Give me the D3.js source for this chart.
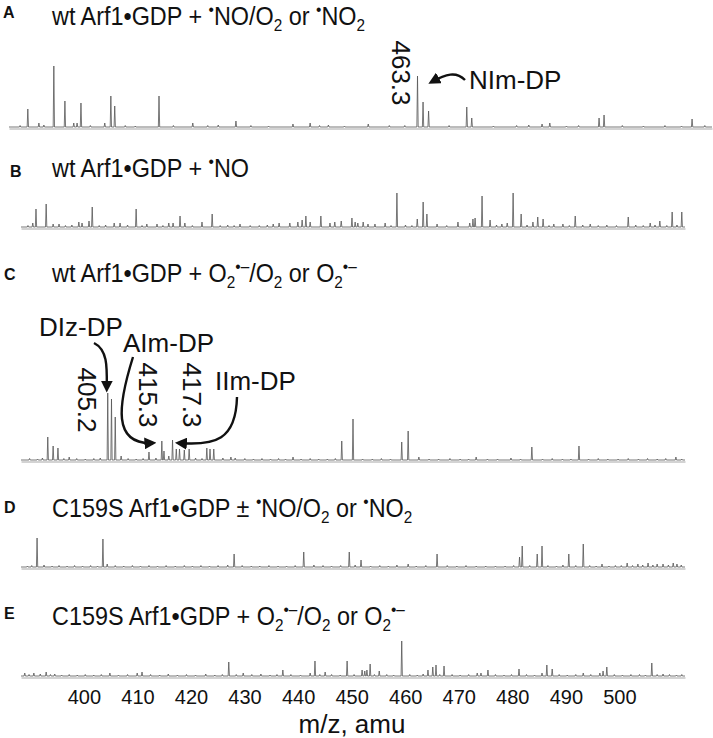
<!DOCTYPE html>
<html>
<head>
<meta charset="utf-8">
<script src="https://cdn.jsdelivr.net/npm/d3@7"></script>
<style>
  body { margin: 0; background: #fff; }
  text { font-family: "Liberation Sans", Arial, sans-serif; fill: #111; }
</style>
</head>
<body>
<div id="chart"></div>
<script>
// peaks: [m/z, relative intensity]
const peaksA = [[391.5,1.5],[392.9,18],[394.9,4],[395.8,2],[397.6,61],[399.6,26],[401.2,4],[401.8,4],[402.5,24],
  [404.2,1.5],[406.8,4],[407.9,31],[408.6,21],[410.5,1.5],[412.3,1],[416.6,31],[419.2,1.5],[422.7,4],[425.4,1.5],
  [427.3,2],[430.5,6],[433.2,1.5],[436.4,1],[440.8,3],[443.9,4],[445.6,1.5],[447.2,2],[450.1,1],[454.4,3],
  [458.2,1.5],[461.0,1.5],[463.3,51],[464.3,25],[465.3,16],[469.0,1.5],[472.2,20],[473.1,9],[477.0,1],
  [481.2,1.5],[483.4,2],[485.8,3],[487.2,4],[490.2,1],[492.4,1.5],[496.1,9],[497.0,12],[500.3,1.5],
  [504.1,1],[508.0,1.5],[511.0,1],[512.9,8],[515.2,1.5]];

const peaksB = [[390.3,1.5],[391.2,4],[391.8,18],[393.7,23],[395.0,3],[396.1,3],[397.3,1.5],[398.5,2],[399.8,5],
  [400.4,4],[401.7,6],[402.3,20],[403.6,1.5],[404.8,2],[406.4,4],[407.5,4],[408.9,2],[410.5,18],[411.6,1.5],
  [412.5,3],[414.4,3],[415.5,1.5],[416.6,4],[417.4,4],[418.7,11],[419.6,4],[421.0,1.5],[422.8,5],[424.7,13],
  [426.2,1.5],[427.6,2],[428.8,1.5],[429.9,3],[431.8,1.5],[433.5,1.5],[435.0,2],[436.1,3],[437.2,4],[439.2,4],
  [440.7,5],[441.5,7],[442.2,11],[443.0,5],[445.0,11],[446.7,4],[447.6,5],[448.8,6],[450.8,9],[451.4,5],
  [451.9,4],[452.9,5],[453.8,3],[455.1,3],[457.0,4],[458.1,1.5],[459.2,34],[460.8,2],[462.0,1.5],[463.0,8],
  [464.1,25],[464.8,13],[466.7,3],[468.5,1.5],[470.6,5],[472.8,4],[473.4,8],[473.8,9],[475.1,31],[476.6,7],
  [477.8,2],[478.8,3],[479.8,4],[480.9,34],[482.4,13],[483.5,2],[484.6,5],[485.5,10],[486.5,8],[487.6,1.5],
  [488.5,3],[490.2,3],[491.4,1.5],[492.5,11],[493.9,2],[495.3,3],[496.8,1.5],[498.4,2],[500.2,1.5],[502.4,10],
  [503.8,2],[505.2,1.5],[506.5,4],[507.4,2],[508.3,6],[509.6,1.5],[510.6,15],[511.5,2],[512.4,15]];

const peaksC = [[390.6,1.5],[392.1,1],[393.0,2],[394.0,23],[395.0,14],[395.9,12],[397.0,1.5],[398.0,3],
  [399.4,1.5],[401.0,1],[402.6,1.5],[403.8,2],[405.2,67],[405.9,61],[406.6,43],[407.7,4],[409.0,1.5],
  [410.5,1],[411.8,1.5],[412.9,8],[414.2,2],[415.3,19],[415.7,9],[416.6,4],[417.3,20],[418.0,11],[418.6,11],
  [419.5,10],[420.4,11],[421.6,2],[422.8,1.5],[423.7,12],[424.3,11],[425.0,11],[426.7,2],[428.2,3],[429.0,2],
  [430.8,1.5],[432.4,1],[434.0,1.5],[435.6,1],[437.1,1.5],[438.4,1],[439.8,3],[441.3,1],[443.0,1.5],
  [444.6,1],[446.2,1],[447.7,1.5],[448.9,19],[451.0,41],[452.8,1],[454.6,1],[456.3,1.5],[458.0,1],
  [460.1,18],[461.3,29],[463.3,3],[465.2,1],[467.0,1],[469.1,1.5],[471.0,1],[472.6,1],[474.0,3],[476.1,1],
  [478.0,1],[480.5,2],[482.3,1],[484.4,13],[486.4,1],[488.2,1.5],[490.1,1],[491.7,1],[493.2,14],[495.0,1],
  [496.8,1.5],[498.6,1],[500.5,1],[502.4,1.5],[504.3,1],[506.0,1.5],[507.8,1],[509.4,1.5],[511.3,3],[512.4,1]];

const peaksD = [[390.2,1],[391.0,1.5],[392.0,29],[393.3,2],[394.8,1],[396.1,1.5],[397.6,1],[399.0,1.5],
  [400.5,1],[402.0,1.5],[403.3,1],[404.3,28],[405.1,3],[406.6,1.5],[408.2,1],[409.8,1.5],[411.3,1],
  [412.9,1.5],[414.5,1],[416.1,1.5],[417.8,1],[419.5,1.5],[421.0,1],[422.6,1.5],[424.2,1],[425.8,1.5],
  [427.6,2],[428.8,13],[430.3,1.5],[432.0,1],[433.6,1],[435.3,1.5],[437.0,1],[438.6,1],[440.2,1.5],
  [441.8,15],[443.7,2],[445.4,1.5],[447.0,1],[448.7,1.5],[450.3,15],[451.4,2],[452.5,7],[454.3,1],
  [456.0,1.5],[457.6,1],[459.2,2],[461.3,3],[462.8,1],[464.6,1.5],[466.7,13],[468.6,1.5],[470.4,1],
  [472.1,1.5],[474.0,1],[475.8,1],[477.6,1],[479.4,1],[481.0,1.5],[482.1,10],[482.6,21],[484.0,1.5],
  [485.4,13],[486.3,21],[487.4,1.5],[489.0,1],[490.2,2],[491.3,13],[492.6,1.5],[494.0,23],[495.2,1.5],
  [496.4,1],[497.5,3],[498.8,1],[500.0,1.5],[501.1,1.5],[502.2,4],[503.2,1.5],[504.2,3],[505.1,2],
  [506.1,4],[507.0,2],[507.8,3],[508.9,3],[509.9,2],[510.8,4],[511.5,3],[512.3,2]];

const peaksE = [[389.7,3],[390.5,1.5],[391.4,3],[392.6,2],[393.7,4],[394.5,1.5],[395.3,2],[396.6,1],
  [398.0,1.5],[399.5,1],[401.0,1.5],[402.6,1],[404.0,1.5],[405.6,3],[407.2,1],[408.9,1.5],[410.7,3],
  [411.6,4],[413.2,1.5],[414.9,1],[416.5,2],[418.2,1],[419.9,1.5],[421.6,1],[423.5,2],[425.2,1],
  [426.6,1.5],[427.8,14],[429.2,1.5],[430.5,3],[432.1,1.5],[433.8,2],[435.5,1],[436.8,1.5],[437.9,6],
  [439.4,1.5],[441.2,1],[443.0,3],[443.9,15],[444.8,1.5],[445.8,4],[447.0,1.5],[448.6,1],[449.9,15],
  [451.2,1.5],[452.7,6],[453.2,5],[453.6,6],[454.2,12],[455.0,1.5],[455.9,5],[457.3,1.5],[458.6,1],
  [460.1,35],[461.6,1.5],[463.0,1],[464.1,2],[465.0,6],[465.9,9],[466.5,11],[467.2,1.5],[468.0,10],
  [469.5,1.5],[471.0,1],[472.6,1.5],[474.2,3],[474.9,3],[476.2,6],[477.6,1.5],[479.2,1],[480.6,1.5],
  [482.0,7],[483.4,1.5],[484.9,1],[486.3,3],[487.2,11],[488.2,7],[489.5,1.5],[491.0,1],[492.6,1.5],
  [494.0,3],[495.4,1.5],[497.1,3],[497.7,5],[498.4,9],[499.8,1.5],[501.3,1],[502.9,1.5],[504.5,1.5],
  [505.6,1],[506.8,13],[507.8,1.5],[508.9,2],[510.1,1.5],[511.4,1],[512.4,1.5]];

const tickValues = [400, 410, 420, 430, 440, 450, 460, 470, 480, 490, 500];
const xLabel = "m/z, amu";

// title segments: [text, "" | "sub" | "sup"]
const titleA = [["wt Arf1\u2022GDP + ",""],["\u2022","sup"],["NO/O",""],["2","sub"],[" or ",""],["\u2022","sup"],["NO",""],["2","sub"]];
const titleB = [["wt Arf1\u2022GDP + ",""],["\u2022","sup"],["NO",""]];
const titleC = [["wt Arf1\u2022GDP + O",""],["2","sub"],["\u2022\u2013","sup"],["/O",""],["2","sub"],[" or O",""],["2","sub"],["\u2022\u2013","sup"]];
const titleD = [["C159S Arf1\u2022GDP \u00b1 ",""],["\u2022","sup"],["NO/O",""],["2","sub"],[" or ",""],["\u2022","sup"],["NO",""],["2","sub"]];
const titleE = [["C159S Arf1\u2022GDP + O",""],["2","sub"],["\u2022\u2013","sup"],["/O",""],["2","sub"],[" or O",""],["2","sub"],["\u2022\u2013","sup"]];

const width = 713, height = 738;

const panels = [
  { letter: "A", peaks: peaksA, title: titleA, domain: [389.5, 516.5], range: [9, 712], base: 127, top: 66, titleY: 25, letterX: 3, letterY: 18 },
  { letter: "B", peaks: peaksB, title: titleB, domain: [389, 513], range: [21, 685], base: 227, top: 193, titleY: 177, letterX: 10, letterY: 177 },
  { letter: "C", peaks: peaksC, title: titleC, domain: [389, 513], range: [21, 685], base: 460, top: 393, titleY: 282, letterX: 4, letterY: 280 },
  { letter: "D", peaks: peaksD, title: titleD, domain: [389, 513], range: [21, 685], base: 567, top: 538, titleY: 517, letterX: 4, letterY: 513 },
  { letter: "E", peaks: peaksE, title: titleE, domain: [389, 513], range: [21, 685], base: 676, top: 641, titleY: 625, letterX: 4, letterY: 619 }
];

const svg = d3.select("#chart").append("svg")
  .attr("width", width)
  .attr("height", height);

svg.append("defs").append("marker")
  .attr("id", "arrow")
  .attr("viewBox", "0 0 10 10")
  .attr("refX", 7)
  .attr("refY", 5)
  .attr("markerWidth", 5)
  .attr("markerHeight", 5)
  .attr("orient", "auto")
  .append("path")
  .attr("d", "M0,0L10,5L0,10z")
  .attr("fill", "#111");

// titles are a touch condensed in the original
const drawTitle = (segs, x, y) => {
  const t = svg.append("text")
    .attr("transform", `translate(${x},${y}) scale(0.9,1)`)
    .attr("font-size", 26);
  let shift = 0;
  segs.forEach(([s, kind]) => {
    const target = kind === "sub" ? 6 : kind === "sup" ? -10 : 0;
    t.append("tspan")
      .attr("dy", target - shift)
      .attr("font-size", kind ? 17 : 26)
      .text(s);
    shift = target;
  });
};

const scales = {};

panels.forEach(p => {
  const x = d3.scaleLinear().domain(p.domain).range(p.range);
  const y = d3.scaleLinear().domain([0, d3.max(p.peaks, d => d[1])]).range([p.base, p.top]);
  scales[p.letter] = { x, y };

  // panel letter + title
  svg.append("text")
    .attr("x", p.letterX)
    .attr("y", p.letterY)
    .attr("font-size", 16)
    .attr("font-weight", "bold")
    .text(p.letter);
  drawTitle(p.title, 52, p.titleY);

  // light axis line under the trace
  const axis = svg.append("g")
    .attr("transform", `translate(0,${p.base + 1.5})`)
    .call(d3.axisBottom(x).tickValues([]).tickSizeOuter(0));
  axis.select(".domain").attr("stroke", "#c4c4c4").attr("stroke-width", 1.6);

  // stick spectrum as narrow peaks on the baseline
  const w = 0.12;
  const pts = [[p.domain[0], 0]];
  p.peaks.slice().sort((a, b) => a[0] - b[0]).forEach(([mz, h]) => {
    pts.push([mz - w, 0], [mz, h], [mz + w, 0]);
  });
  pts.push([p.domain[1], 0]);

  const line = d3.line().x(d => x(d[0])).y(d => y(d[1]));
  svg.append("path")
    .datum(pts)
    .attr("fill", "none")
    .attr("stroke", "#555")
    .attr("stroke-width", 0.8)
    .attr("d", line);
});

// bottom m/z axis labels
const xE = scales.E.x;
const bottomAxis = svg.append("g")
  .attr("transform", "translate(4,677)")
  .call(d3.axisBottom(xE).tickValues(tickValues).tickSize(0).tickPadding(13));
bottomAxis.select(".domain").remove();
bottomAxis.selectAll("text")
  .attr("font-size", 20)
  .attr("font-family", "'Liberation Sans', Arial, sans-serif")
  .attr("fill", "#111");

svg.append("text")
  .attr("x", 352)
  .attr("y", 733)
  .attr("text-anchor", "middle")
  .attr("font-size", 26)
  .text(xLabel);

// rotated peak labels
const rotLabel = (txt, cx, cy) => {
  svg.append("text")
    .attr("transform", `translate(${cx},${cy}) rotate(90)`)
    .attr("text-anchor", "middle")
    .attr("dominant-baseline", "central")
    .attr("font-size", 26)
    .text(txt);
};

const label = (txt, x, y) => {
  svg.append("text").attr("x", x).attr("y", y).attr("font-size", 26).text(txt);
};

const arrow = d => {
  svg.append("path")
    .attr("d", d)
    .attr("fill", "none")
    .attr("stroke", "#111")
    .attr("stroke-width", 2.4)
    .attr("marker-end", "url(#arrow)");
};

// panel A annotation
const sA = scales.A;
rotLabel("463.3", sA.x(463.3) - 17, 73);
label("NIm-DP", 469, 89);
arrow(`M465,80 C456,71 446,74 ${sA.x(463.3) + 14},82`);

// panel C annotations
const sC = scales.C;
rotLabel("405.2", sC.x(405.2) - 21, 400);
rotLabel("415.3", sC.x(415.3) - 14, 395);
rotLabel("417.3", sC.x(417.3) + 19, 395);
label("DIz-DP", 39, 336);
label("AIm-DP", 123, 352);
label("IIm-DP", 215, 390);
arrow(`M94,343 C108,350 107,368 ${sC.x(405.2) - 1},${sC.y(67) - 4}`);
arrow(`M133,357 C118,405 112,445 ${sC.x(415.3) - 9},443`);
arrow(`M237,397 C236,440 215,446 ${sC.x(417.3) + 6},443`);
</script>
</body>
</html>
